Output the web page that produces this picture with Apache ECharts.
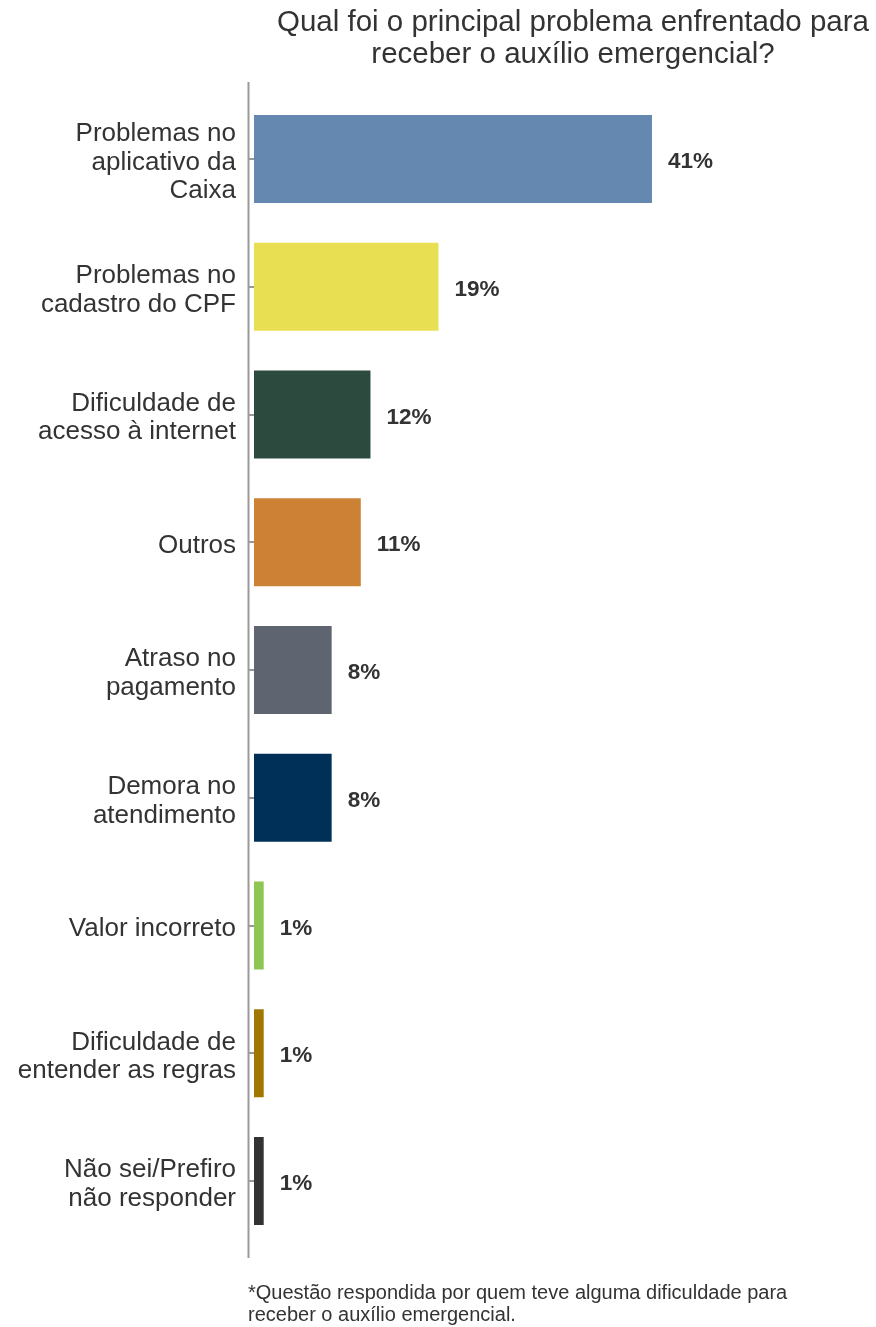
<!DOCTYPE html>
<html>
<head>
<meta charset="utf-8">
<script src="https://cdn.jsdelivr.net/npm/echarts@6/dist/echarts.min.js"></script>
<style>
html,body{margin:0;padding:0;background:#fff;}
#chart{width:876px;height:1327px;}
</style>
</head>
<body>
<div id="chart"></div>
<script>
const categories = [
  "Problemas no\naplicativo da\nCaixa",
  "Problemas no\ncadastro do CPF",
  "Dificuldade de\nacesso à internet",
  "Outros",
  "Atraso no\npagamento",
  "Demora no\natendimento",
  "Valor incorreto",
  "Dificuldade de\nentender as regras",
  "Não sei/Prefiro\nnão responder"
];
const values = [41, 19, 12, 11, 8, 8, 1, 1, 1];
const barColors = ["#6488B0", "#E8E052", "#2D4A3E", "#CC8135", "#5E6570", "#003057", "#8DC653", "#A07800", "#333333"];
const titleText = "Qual foi o principal problema enfrentado para\nreceber o auxílio emergencial?";
const captionText = "*Questão respondida por quem teve alguma dificuldade para\nreceber o auxílio emergencial.";

const FONT = "'Liberation Sans', Arial, sans-serif";
const chart = echarts.init(document.getElementById('chart'), null, {renderer: 'canvas'});

chart.setOption({
  backgroundColor: '#ffffff',
  animation: false,
  title: [{
    text: titleText,
    left: 573,
    top: 7,
    padding: 0,
    textAlign: 'center',
    textStyle: {fontFamily: FONT, fontSize: 29.5, fontWeight: 'normal', color: '#333333', lineHeight: 32}
  }, {
    text: captionText,
    left: 248,
    top: 1282,
    padding: 0,
    textStyle: {fontFamily: FONT, fontSize: 20, fontWeight: 'normal', color: '#333333', lineHeight: 22}
  }],
  grid: {left: 254, top: 95.1, width: 582.4, height: 1149.75, containLabel: false},
  xAxis: {
    type: 'value', min: 0, max: 60,
    show: false
  },
  yAxis: {
    type: 'category',
    data: categories,
    inverse: true,
    offset: 6,
    axisLine: {show: false},
    axisTick: {show: true, length: 6, alignWithLabel: true, lineStyle: {color: '#999999', width: 2}},
    axisLabel: {
      margin: 12,
      align: 'right',
      formatter: v => '{s| }\n' + v.split('\n').map(l => '{a|' + l + '}').join('\n'),
      rich: {
        s: {fontSize: 6, lineHeight: 7},
        a: {fontFamily: FONT, fontSize: 26, color: '#333333', lineHeight: 28.5, align: 'right'}
      }
    },
    splitLine: {show: false}
  },
  graphic: [{
    type: 'line',
    shape: {x1: 248.5, y1: 82, x2: 248.5, y2: 1258},
    style: {stroke: '#999999', lineWidth: 2}
  }],
  series: [{
    type: 'bar',
    data: values.map((v, i) => ({value: v, itemStyle: {color: barColors[i]}})),
    barCategoryGap: '31%',
    label: {
      show: true, position: 'right', distance: 16, offset: [0, 3],
      formatter: p => p.value + '%',
      fontFamily: FONT, fontSize: 22.5, fontWeight: 'bold', color: '#333333'
    }
  }]
});
</script>
</body>
</html>
